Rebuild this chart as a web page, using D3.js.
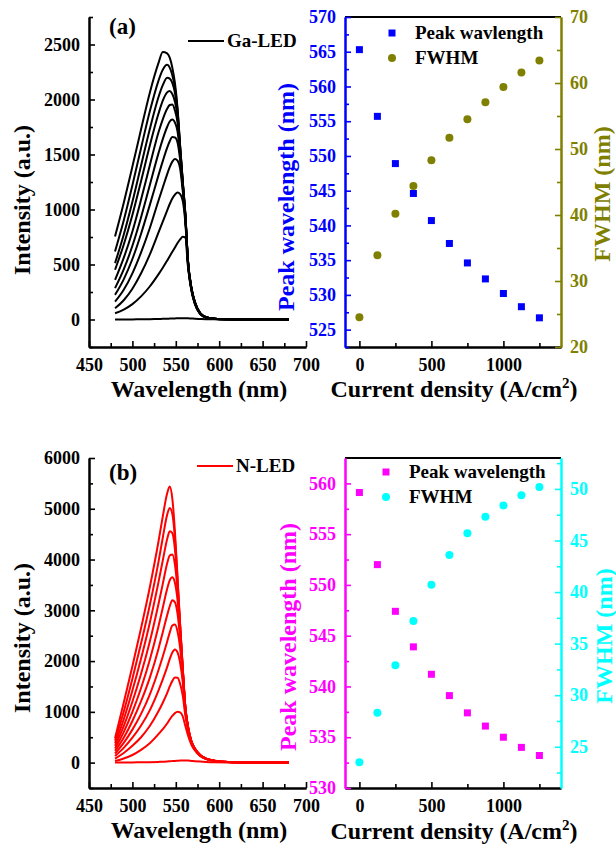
<!DOCTYPE html>
<html>
<head>
<meta charset="utf-8">
<script src="https://cdn.jsdelivr.net/npm/d3@7"></script>
<style>
  body { margin: 0; background: #fff; }
  svg text { font-family: "Liberation Serif", "Times New Roman", serif; font-weight: bold; }
</style>
</head>
<body>
<script>
// wavelength grid (nm) that the spectra were read at
const wavelengths = [480, 490, 500, 510, 520, 530, 535, 540, 543, 546, 549, 552, 555, 558, 561, 564, 568, 572, 578, 585, 595, 610, 640, 680];

// Ga-LED spectra, lowest current first
const gaSpectra = [
  [0, 0, 1, 2, 3, 5, 6, 7, 8, 9, 10, 11, 12, 12, 12, 11, 9, 7, 5, 3, 2, 1, 0, 0],
  [57, 90, 140, 210, 300, 410, 470, 535, 575, 615, 655, 695, 728, 752, 745, 480, 260, 140, 50, 17, 5, 2, 0, 0],
  [102, 175, 280, 420, 590, 790, 890, 990, 1050, 1100, 1135, 1155, 1140, 1080, 880, 505, 270, 145, 53, 18, 5, 2, 0, 0],
  [162, 270, 420, 610, 830, 1080, 1200, 1320, 1385, 1435, 1460, 1445, 1370, 1170, 910, 515, 275, 148, 54, 19, 6, 2, 0, 0],
  [224, 365, 550, 780, 1040, 1310, 1440, 1560, 1620, 1658, 1655, 1610, 1450, 1200, 925, 520, 278, 150, 55, 19, 6, 2, 0, 0],
  [285, 455, 670, 930, 1220, 1510, 1640, 1750, 1800, 1818, 1790, 1710, 1490, 1215, 935, 525, 280, 152, 56, 20, 6, 2, 0, 0],
  [360, 560, 800, 1090, 1400, 1700, 1820, 1915, 1950, 1955, 1900, 1790, 1520, 1230, 940, 528, 282, 154, 57, 20, 6, 2, 0, 0],
  [452, 680, 950, 1260, 1580, 1870, 1990, 2065, 2078, 2050, 1980, 1840, 1540, 1240, 945, 532, 284, 155, 57, 20, 6, 2, 0, 0],
  [513, 770, 1070, 1400, 1730, 2020, 2130, 2198, 2190, 2150, 2060, 1880, 1560, 1250, 950, 535, 286, 156, 58, 21, 6, 2, 0, 0],
  [619, 900, 1220, 1560, 1890, 2170, 2270, 2315, 2290, 2220, 2110, 1900, 1570, 1255, 955, 538, 288, 158, 59, 21, 6, 2, 0, 0],
  [755, 1060, 1390, 1730, 2060, 2330, 2432, 2420, 2380, 2290, 2150, 1920, 1580, 1260, 960, 540, 290, 160, 60, 22, 6, 2, 0, 0]
];

// N-LED spectra, lowest current first
const nSpectra = [
  [0, 2, 4, 6, 9, 14, 18, 22, 26, 30, 34, 37, 40, 42, 42, 40, 34, 28, 20, 13, 7, 3, 1, 0],
  [30, 80, 150, 250, 380, 560, 660, 770, 850, 920, 975, 1002, 990, 910, 720, 540, 350, 240, 132, 70, 30, 10, 4, 2],
  [80, 190, 330, 500, 720, 1010, 1180, 1370, 1500, 1610, 1675, 1670, 1550, 1320, 930, 650, 390, 260, 140, 73, 32, 11, 4, 2],
  [130, 290, 490, 730, 1030, 1420, 1640, 1880, 2040, 2170, 2230, 2170, 1960, 1590, 1010, 675, 400, 265, 142, 74, 32, 11, 4, 2],
  [180, 390, 650, 960, 1340, 1820, 2090, 2380, 2560, 2700, 2720, 2580, 2250, 1710, 1050, 690, 405, 268, 144, 75, 33, 11, 4, 2],
  [230, 490, 820, 1210, 1670, 2240, 2570, 2900, 3080, 3200, 3160, 2930, 2440, 1780, 1070, 700, 410, 270, 145, 76, 33, 11, 4, 2],
  [280, 600, 1000, 1470, 2020, 2680, 3050, 3420, 3590, 3650, 3540, 3200, 2560, 1820, 1080, 705, 412, 272, 146, 77, 34, 12, 4, 2],
  [330, 720, 1200, 1750, 2380, 3120, 3520, 3920, 4080, 4100, 3900, 3400, 2630, 1840, 1085, 708, 414, 274, 147, 78, 34, 12, 4, 2],
  [380, 850, 1420, 2050, 2750, 3550, 3980, 4400, 4555, 4520, 4200, 3520, 2670, 1850, 1090, 712, 416, 276, 148, 78, 34, 12, 4, 2],
  [430, 1000, 1650, 2350, 3100, 3950, 4430, 4880, 5015, 4900, 4420, 3600, 2700, 1860, 1095, 715, 418, 278, 149, 79, 35, 12, 4, 2],
  [480, 1180, 1900, 2650, 3450, 4350, 4850, 5300, 5440, 5200, 4550, 3650, 2720, 1870, 1100, 720, 420, 280, 150, 80, 35, 12, 4, 2]
];

// right-hand panels
const currentDensity = [0, 125, 250, 375, 500, 625, 750, 875, 1000, 1125, 1250];
const gaPeak = [565.3, 555.7, 548.9, 544.6, 540.7, 537.4, 534.6, 532.3, 530.2, 528.3, 526.7];
const gaFwhm = [24.5, 33.9, 40.2, 44.4, 48.3, 51.7, 54.5, 57.1, 59.4, 61.6, 63.4];
const nPeak = [559.1, 552.0, 547.4, 543.9, 541.2, 539.1, 537.4, 536.1, 535.0, 534.0, 533.2];
const nFwhm = [23.5, 28.3, 32.9, 37.2, 40.7, 43.6, 45.7, 47.3, 48.4, 49.4, 50.2];

const W = 616, H = 849;
const svg = d3.select("body").append("svg").attr("width", W).attr("height", H);
svg.append("rect").attr("width", W).attr("height", H).attr("fill", "#fff");

function styleAxis(sel, color) {
  sel.attr("font-family", null).attr("font-size", null);
  sel.select(".domain").attr("stroke", color).attr("stroke-width", 2);
  sel.selectAll(".tick line").attr("stroke", color).attr("stroke-width", 1.6);
  sel.selectAll(".tick text").attr("fill", color).style("font-size", "18px");
}

// major + minor ticks, all pointing into the plot
function addAxis(g, orient, scale, major, minor, pos, color, pad) {
  const make = { left: d3.axisLeft, right: d3.axisRight, bottom: d3.axisBottom }[orient];
  const tr = orient === "bottom" ? `translate(0,${pos})` : `translate(${pos},0)`;
  g.append("g").attr("transform", tr)
    .call(make(scale).tickValues(minor).tickSize(-4).tickSizeOuter(0).tickFormat(""))
    .call(s => styleAxis(s, color));
  g.append("g").attr("transform", tr)
    .call(make(scale).tickValues(major).tickSize(-6).tickSizeOuter(0).tickPadding(pad).tickFormat(d3.format("d")))
    .call(s => styleAxis(s, color));
}

function rotLabel(x, y, txt, color) {
  svg.append("text").attr("transform", `translate(${x},${y}) rotate(-90)`)
    .attr("text-anchor", "middle").attr("fill", color).style("font-size", "24px").text(txt);
}

function cmLabel(x, y) {
  const t = svg.append("text").attr("x", x).attr("y", y).attr("text-anchor", "middle")
    .style("font-size", "24px").attr("fill", "#000");
  t.append("tspan").text("Current density (A/cm");
  t.append("tspan").attr("dy", -9).style("font-size", "15px").text("2");
  t.append("tspan").attr("dy", 9).text(")");
}

function spectraPanel(top, bottom, yDomain, yMajor, yMinor, spectra, color, tag, tagY, legendName, legY, legX) {
  const x = d3.scaleLinear().domain([450, 700]).range([89, 306]);
  const y = d3.scaleLinear().domain(yDomain).range([bottom, top]);
  const g = svg.append("g");
  const line = d3.line().x(d => x(d[0])).y(d => y(d[1])).curve(d3.curveMonotoneX);
  g.selectAll("path.spec").data(spectra).enter().append("path")
    .attr("class", "spec")
    .attr("d", s => line(wavelengths.map((w, i) => [w, s[i]])))
    .attr("fill", "none").attr("stroke", color).attr("stroke-width", 2);
  addAxis(g, "bottom", x, d3.range(450, 701, 50), d3.range(475, 700, 50), bottom, "#000", 11);
  addAxis(g, "left", y, yMajor, yMinor, 89, "#000", 9);

  svg.append("text").attr("x", 109).attr("y", tagY).style("font-size", "23px").text(tag);
  svg.append("line").attr("x1", legX).attr("x2", legX + 36).attr("y1", legY - 6).attr("y2", legY - 6)
    .attr("stroke", color).attr("stroke-width", 2);
  svg.append("text").attr("x", legX + 39).attr("y", legY).style("font-size", "19px").text(legendName);
}

function paramPanel(top, bottom, yLDomain, yLMajor, yLMinor, yRDomain, yRMajor, yRMinor,
                    peak, fwhm, cL, cR, legendPeak, legX, legY) {
  const x = d3.scaleLinear().domain([-100, 1400]).range([345, 561]);
  const yL = d3.scaleLinear().domain(yLDomain).range([bottom, top]);
  const yR = d3.scaleLinear().domain(yRDomain).range([bottom, top]);
  const g = svg.append("g");
  g.append("line").attr("x1", 345).attr("x2", 561).attr("y1", top).attr("y2", top)
    .attr("stroke", "#000").attr("stroke-width", 2);
  addAxis(g, "bottom", x, [0, 500, 1000], [250, 750, 1250], bottom, "#000", 11);
  addAxis(g, "left", yL, yLMajor, yLMinor, 345, cL, 9);
  addAxis(g, "right", yR, yRMajor, yRMinor, 561, cR, 9);

  g.selectAll("rect.pk").data(currentDensity).enter().append("rect")
    .attr("x", (d) => x(d) - 3.5).attr("y", (d, i) => yL(peak[i]) - 3.5)
    .attr("width", 7).attr("height", 7).attr("fill", cL);
  g.selectAll("circle.fw").data(currentDensity).enter().append("circle")
    .attr("cx", d => x(d)).attr("cy", (d, i) => yR(fwhm[i])).attr("r", 4).attr("fill", cR);

  // legend
  g.append("rect").attr("x", legX - 3.5).attr("y", legY - 3.5).attr("width", 7).attr("height", 7).attr("fill", cL);
  g.append("text").attr("x", legX + 23).attr("y", legY + 6).style("font-size", "19px").text(legendPeak);
  g.append("circle").attr("cx", legX).attr("cy", legY + 25).attr("r", 4).attr("fill", cR);
  g.append("text").attr("x", legX + 23).attr("y", legY + 31).style("font-size", "19px").text("FWHM");
}

// (a) Ga-LED
spectraPanel(17, 347, [-250, 2750], d3.range(0, 2501, 500), d3.range(-250, 2751, 500),
  gaSpectra, "#000", "(a)", 34, "Ga-LED", 47, 188);
paramPanel(17, 347, [522.5, 570], d3.range(525, 571, 5), d3.range(522.5, 570, 5),
  [20, 70], d3.range(20, 71, 10), d3.range(25, 70, 10),
  gaPeak, gaFwhm, "#0000ff", "#808000", "Peak wavlength", 392, 33);

// (b) N-LED
spectraPanel(458, 788, [-500, 6000], d3.range(0, 6001, 1000), d3.range(-500, 6000, 1000),
  nSpectra, "#ff0000", "(b)", 480, "N-LED", 472, 197);
paramPanel(458, 788, [530, 562.5], d3.range(530, 561, 5), d3.range(532.5, 562.5, 5),
  [21, 53], d3.range(25, 51, 5), d3.range(22.5, 53, 5),
  nPeak, nFwhm, "#ff00ff", "#00ffff", "Peak wavelength", 386, 472);

// axis titles
rotLabel(30, 200, "Intensity (a.u.)", "#000");
rotLabel(294, 197, "Peak wavelength (nm)", "#0000ff");
rotLabel(610, 194, "FWHM (nm)", "#808000");
svg.append("text").attr("x", 199).attr("y", 397).attr("text-anchor", "middle").style("font-size", "24px").text("Wavelength (nm)");
cmLabel(454, 397);

rotLabel(30, 638, "Intensity (a.u.)", "#000");
rotLabel(296, 637, "Peak wavelength (nm)", "#ff00ff");
rotLabel(612, 636, "FWHM (nm)", "#00ffff");
svg.append("text").attr("x", 199).attr("y", 838).attr("text-anchor", "middle").style("font-size", "24px").text("Wavelength (nm)");
cmLabel(454, 839);
</script>
</body>
</html>
